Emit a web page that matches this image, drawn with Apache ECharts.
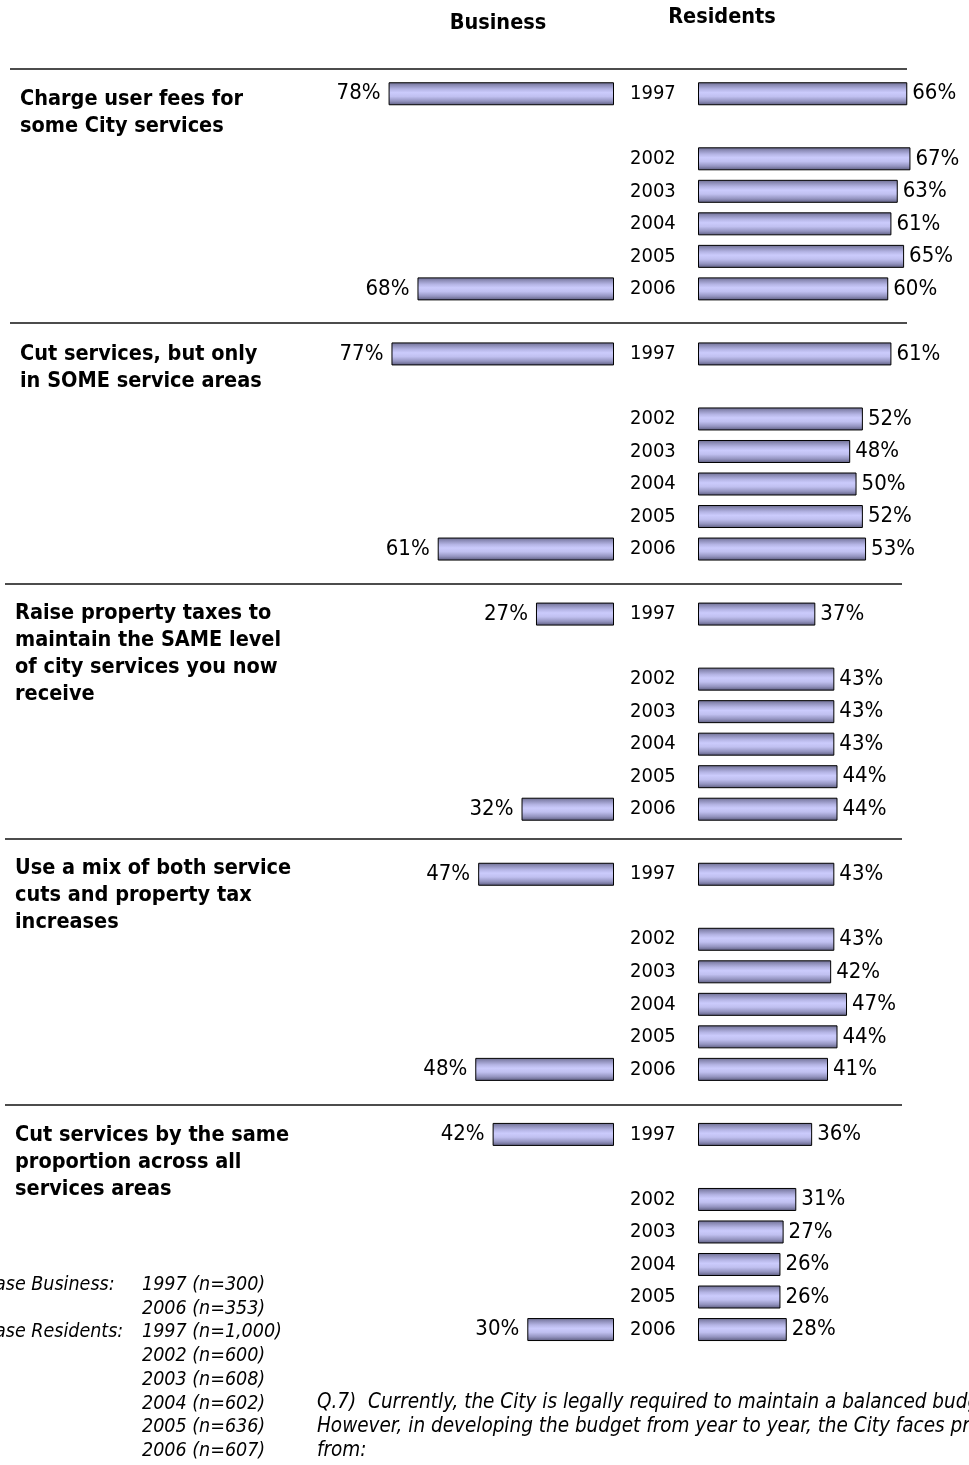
<!DOCTYPE html>
<html>
<head>
<meta charset="utf-8">
<script src="https://cdn.jsdelivr.net/npm/echarts@6/dist/echarts.min.js"></script>
<style>
  html, body { margin: 0; padding: 0; background: #fff; }
  #chart { width: 969px; height: 1465px; }
</style>
</head>
<body>
<div id="chart"></div>
<script>
// Budget options: share who support each approach, businesses vs residents by survey year
const questions = [
  ['Charge user fees for', 'some City services'],
  ['Cut services, but only', 'in SOME service areas'],
  ['Raise property taxes to', 'maintain the SAME level', 'of city services you now', 'receive'],
  ['Use a mix of both service', 'cuts and property tax', 'increases'],
  ['Cut services by the same', 'proportion across all', 'services areas']
];
const residentYears = ['1997', '2002', '2003', '2004', '2005', '2006'];
const residentValues = [
  [66, 67, 63, 61, 65, 60],
  [61, 52, 48, 50, 52, 53],
  [37, 43, 43, 43, 44, 44],
  [43, 43, 42, 47, 44, 41],
  [36, 31, 27, 26, 26, 28]
];
const businessYears = ['1997', '2006'];
const business1997 = [78, 77, 27, 47, 42];
const business2006 = [68, 61, 32, 48, 30];
const baseBusiness = ['1997 (n=300)', '2006 (n=353)'];
const baseResidents = ['1997 (n=1,000)', '2002 (n=600)', '2003 (n=608)', '2004 (n=602)', '2005 (n=636)', '2006 (n=607)'];
const questionNote = [
  'Q.7)  Currently, the City is legally required to maintain a balanced budget.',
  'However, in developing the budget from year to year, the City faces pressures',
  'from:'
];
const headers = ['Business', 'Residents'];

// Row slots: each group has 1997, a gap, 2002-2006, and a gap before the next group
const slotKeys = [];
const residentData = [];
const businessData = [];
questions.forEach((q, g) => {
  const slots = ['1997', '', '2002', '2003', '2004', '2005', '2006', ''];
  slots.forEach((label, p) => {
    if (g === questions.length - 1 && p === 7) return;
    slotKeys.push(g + '-' + p + '|' + label);
    const ri = residentYears.indexOf(label);
    residentData.push(ri >= 0 && label !== '' ? residentValues[g][ri] : '-');
    if (label === businessYears[0] && p === 0) businessData.push(business1997[g]);
    else if (label === businessYears[1]) businessData.push(business2006[g]);
    else businessData.push('-');
  });
});

const FONT = 'Tahoma, "DejaVu Sans Condensed", "DejaVu Sans", sans-serif';
const barFill = new echarts.graphic.LinearGradient(0, 0, 0, 1, [
  { offset: 0, color: '#6a6a8c' },
  { offset: 0.12, color: '#8a8ab4' },
  { offset: 0.3, color: '#b4b4e4' },
  { offset: 0.45, color: '#cbcbfc' },
  { offset: 0.62, color: '#c0c0f0' },
  { offset: 0.82, color: '#9494c0' },
  { offset: 1, color: '#5a5a7c' }
]);
const barStyle = { color: barFill, borderColor: '#000', borderWidth: 1 };
const labelStyle = { color: '#000', fontSize: 22, fontFamily: FONT, formatter: '{c}%' };

const gridTop = 77.5;
const gridHeight = 1268.3;

const chart = echarts.init(document.getElementById('chart'), null, { renderer: 'canvas' });

// Layout of decorative text and rules
const rules = [
  { y: 69, x1: 10, x2: 907 },
  { y: 323, x1: 10, x2: 907 },
  { y: 584, x1: 5, x2: 902 },
  { y: 839, x1: 5, x2: 902 },
  { y: 1105, x1: 5, x2: 902 }
];
const questionPos = [
  { x: 20, y: 99 }, { x: 20, y: 354 }, { x: 15, y: 613 }, { x: 15, y: 868 }, { x: 15, y: 1135 }
];

const graphics = [];
rules.forEach(r => graphics.push({
  type: 'line', silent: true,
  shape: { x1: r.x1, y1: r.y, x2: r.x2, y2: r.y },
  style: { stroke: '#111', lineWidth: 1.5 }
}));
questions.forEach((lines, g) => {
  lines.forEach((t, i) => graphics.push({
    type: 'text', silent: true,
    x: questionPos[g].x, y: questionPos[g].y + i * 27,
    style: { text: t, fontSize: 21.5, fontWeight: 'bold', fontFamily: FONT, fill: '#000', verticalAlign: 'middle', align: 'left' }
  }));
});
graphics.push({
  type: 'text', silent: true, x: 498, y: 23,
  style: { text: headers[0], fontSize: 21.5, fontWeight: 'bold', fontFamily: FONT, fill: '#000', align: 'center', verticalAlign: 'middle' }
});
graphics.push({
  type: 'text', silent: true, x: 722, y: 17,
  style: { text: headers[1], fontSize: 21.5, fontWeight: 'bold', fontFamily: FONT, fill: '#000', align: 'center', verticalAlign: 'middle' }
});
const noteStyle = { fontSize: 19.5, fontStyle: 'italic', fontFamily: FONT, fill: '#000', verticalAlign: 'middle', align: 'left' };
graphics.push({ type: 'text', silent: true, x: -17, y: 1285, style: Object.assign({ text: 'Base Business:' }, noteStyle) });
graphics.push({ type: 'text', silent: true, x: -17, y: 1332, style: Object.assign({ text: 'Base Residents:' }, noteStyle) });
baseBusiness.concat(baseResidents).forEach((t, i) => graphics.push({
  type: 'text', silent: true, x: 142, y: 1285 + i * 23.7, style: Object.assign({ text: t }, noteStyle)
}));
questionNote.forEach((t, i) => graphics.push({
  type: 'text', silent: true, x: 317, y: 1403 + i * 23.7,
  style: Object.assign({}, noteStyle, { text: t, fontSize: 20.5 })
}));

chart.setOption({
  backgroundColor: '#fff',
  animation: false,
  grid: [
    { left: 325, width: 289, top: gridTop, height: gridHeight },
    { left: 698, width: 260, top: gridTop, height: gridHeight }
  ],
  xAxis: [
    { gridIndex: 0, type: 'value', min: 0, max: 100, inverse: true, show: false },
    { gridIndex: 1, type: 'value', min: 0, max: 82, show: false }
  ],
  yAxis: [
    { gridIndex: 0, type: 'category', data: slotKeys, inverse: true, show: false },
    {
      gridIndex: 1, type: 'category', data: slotKeys, inverse: true,
      axisLine: { show: false }, axisTick: { show: false }, splitLine: { show: false },
      axisLabel: {
        margin: 68, align: 'left', color: '#000', fontSize: 20, fontFamily: FONT,
        interval: 0, formatter: v => v.split('|')[1]
      }
    }
  ],
  series: [
    {
      name: headers[0], type: 'bar', xAxisIndex: 0, yAxisIndex: 0,
      data: businessData, barWidth: 23, itemStyle: barStyle,
      label: Object.assign({ show: true, position: 'left', distance: 8 }, labelStyle)
    },
    {
      name: headers[1], type: 'bar', xAxisIndex: 1, yAxisIndex: 1,
      data: residentData, barWidth: 23, itemStyle: barStyle,
      label: Object.assign({ show: true, position: 'right', distance: 5 }, labelStyle)
    }
  ],
  graphic: graphics
});
</script>
</body>
</html>
